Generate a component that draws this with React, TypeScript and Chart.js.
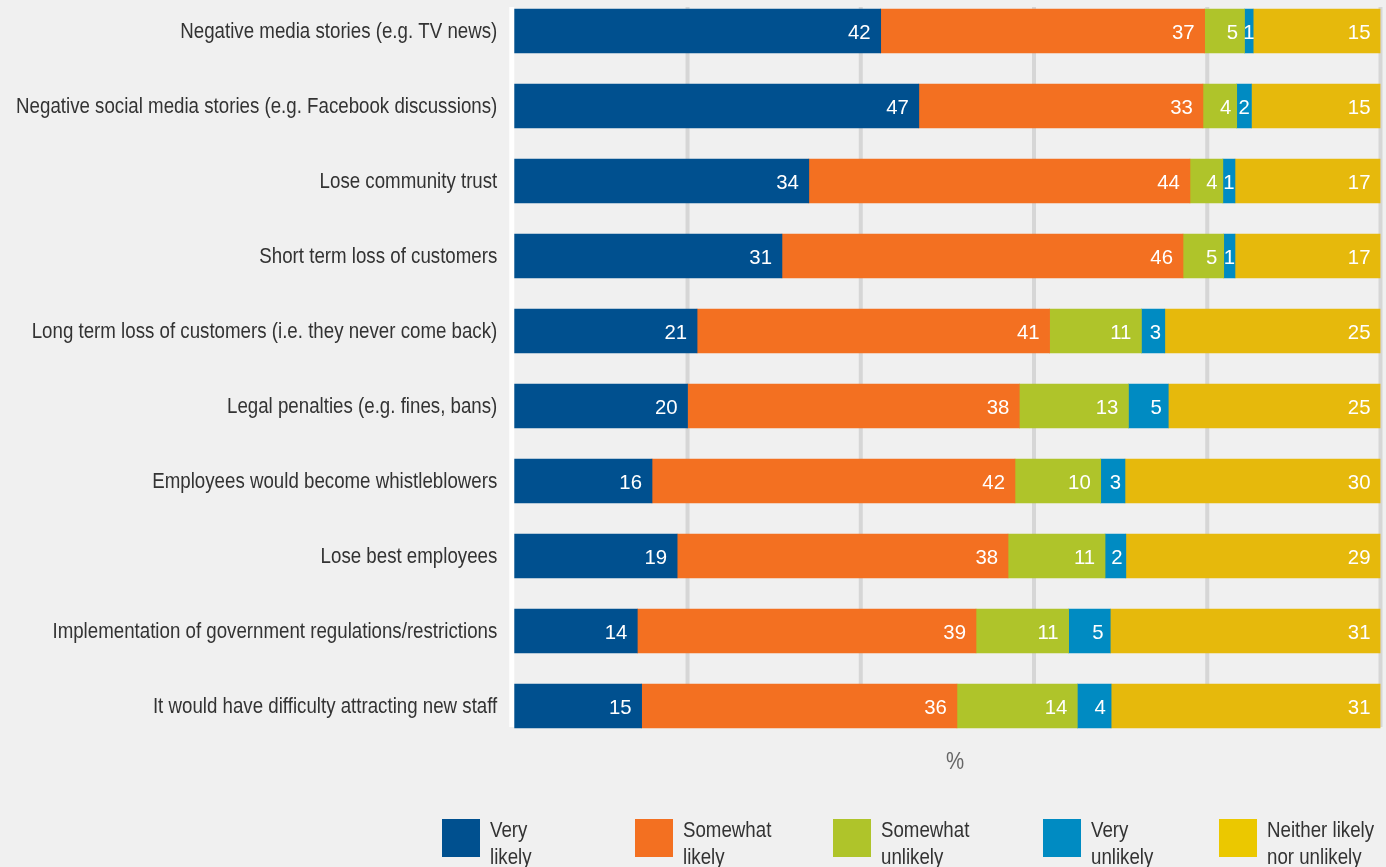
import React, { useEffect, useRef } from 'react';
import { Chart, registerables } from 'chart.js';

Chart.register(...registerables);

const categories = [
  'Negative media stories (e.g. TV news)',
  'Negative social media stories (e.g. Facebook discussions)',
  'Lose community trust',
  'Short term loss of customers',
  'Long term loss of customers (i.e. they never come back)',
  'Legal penalties (e.g. fines, bans)',
  'Employees would become whistleblowers',
  'Lose best employees',
  'Implementation of government regulations/restrictions',
  'It would have difficulty attracting new staff',
];

// Shares (%); the labels show them rounded.
const veryLikely = [42.3, 46.7, 34.0, 30.9, 21.1, 20.0, 15.9, 18.8, 14.2, 14.7];
const somewhatLikely = [37.4, 32.8, 44.0, 46.3, 40.7, 38.3, 41.9, 38.2, 39.1, 36.4];
const somewhatUnlikely = [4.6, 3.9, 3.8, 4.7, 10.6, 12.6, 9.9, 11.2, 10.7, 13.9];
const veryUnlikely = [1.0, 1.7, 1.4, 1.3, 2.7, 4.6, 2.8, 2.4, 4.8, 3.9];
const neitherLikely = [14.7, 14.9, 16.8, 16.8, 24.9, 24.5, 29.5, 29.4, 31.2, 31.1];

const seriesLabels = [
  ['Very', 'likely'],
  ['Somewhat', 'likely'],
  ['Somewhat', 'unlikely'],
  ['Very', 'unlikely'],
  ['Neither likely', 'nor unlikely'],
];
const seriesValues = [veryLikely, somewhatLikely, somewhatUnlikely, veryUnlikely, neitherLikely];
const seriesColors = ['#00508f', '#f37021', '#afc42a', '#008bc2', '#e6b90c'];
const legendColors = ['#00508f', '#f37021', '#afc42a', '#008bc2', '#ebc800'];

const gridTicks = [20, 40, 60, 80, 100];
const axisTitle = '%';

const FONT = '"Liberation Sans", Arial, sans-serif';
const SX = 0.85; // horizontal condensing of text
const OFFSET = 20; // canvas is shifted up by this many px
const CANVAS_W = 1386;
const CANVAS_H = 907;
const legendX = [442, 635, 833, 1043, 1219];

function narrowText(
  ctx: CanvasRenderingContext2D,
  text: string,
  x: number,
  y: number,
  align: 'left' | 'right' | 'center',
  sx: number = SX
) {
  const w = ctx.measureText(text).width * sx;
  let left = x;
  if (align === 'right') left = x - w;
  else if (align === 'center') left = x - w / 2;
  ctx.save();
  ctx.textAlign = 'left';
  ctx.translate(left, y);
  ctx.scale(sx, 1);
  ctx.fillText(text, 0, 0);
  ctx.restore();
}

const gridPlugin = {
  id: 'customGrid',
  beforeDatasetsDraw(chart: any) {
    const { ctx } = chart;
    const xs = chart.scales.x;
    const ys = chart.scales.y;
    const top = ys.getPixelForValue(0) - 24;
    const bottom = ys.getPixelForValue(categories.length - 1) + 21;
    ctx.save();
    ctx.fillStyle = '#d6d6d6';
    gridTicks.forEach((v) => {
      const px = xs.getPixelForValue(v);
      ctx.fillRect(px - 2, top, 4, bottom - top);
    });
    const p0 = xs.getPixelForValue(0);
    ctx.fillStyle = '#ffffff';
    ctx.fillRect(p0 - 5, top, 5, bottom - top);
    // category labels
    ctx.font = `22px ${FONT}`;
    ctx.fillStyle = '#333333';
    ctx.textBaseline = 'middle';
    chart.data.labels.forEach((lab: string, i: number) => {
      narrowText(ctx, lab, chart.chartArea.left - 17, ys.getPixelForTick(i) + 1, 'right');
    });
    ctx.restore();
  },
};

const labelPlugin = {
  id: 'valueLabels',
  afterDatasetsDraw(chart: any) {
    const { ctx, chartArea } = chart;
    const vsx = 0.97;
    ctx.save();
    ctx.font = `21px ${FONT}`;
    ctx.fillStyle = '#ffffff';
    ctx.textBaseline = 'middle';
    chart.data.datasets.forEach((ds: any, i: number) => {
      const meta = chart.getDatasetMeta(i);
      meta.data.forEach((el: any, j: number) => {
        const v = ds.data[j];
        const end = Math.min(el.x, chartArea.right);
        const start = el.base;
        const w = end - start;
        const txt = String(Math.round(v));
        const tw = ctx.measureText(txt).width * vsx;
        const pad = Math.min(10, w * 0.16);
        const xr = Math.max(end - pad, (start + end) / 2 + tw / 2);
        narrowText(ctx, txt, xr, el.y + 2, 'right', vsx);
      });
    });
    ctx.restore();
  },
};

const legendPlugin = {
  id: 'customLegend',
  afterDraw(chart: any) {
    const { ctx } = chart;
    ctx.save();
    // axis title
    ctx.font = `24px ${FONT}`;
    ctx.fillStyle = '#666666';
    ctx.textBaseline = 'middle';
    narrowText(ctx, axisTitle, 955, 762 + OFFSET, 'center');
    // legend
    ctx.textBaseline = 'alphabetic';
    ctx.font = `22px ${FONT}`;
    chart.data.datasets.forEach((ds: any, i: number) => {
      const x = legendX[i];
      ctx.fillStyle = legendColors[i];
      ctx.fillRect(x, 819 + OFFSET, 38, 38);
      ctx.fillStyle = '#333333';
      const lines: string[] = ds.legendLines;
      lines.forEach((line, k) => {
        narrowText(ctx, line, x + 48, 837 + OFFSET + k * 27, 'left');
      });
    });
    ctx.restore();
  },
};

export default function App() {
  const canvasRef = useRef<HTMLCanvasElement | null>(null);

  useEffect(() => {
    if (!canvasRef.current) return;
    const chart = new Chart(canvasRef.current, {
      type: 'bar',
      data: {
        labels: categories,
        datasets: seriesValues.map((vals, i) => ({
          label: seriesLabels[i].join(' '),
          legendLines: seriesLabels[i],
          data: vals,
          backgroundColor: seriesColors[i],
          borderWidth: 0,
          barThickness: 44,
        })) as any,
      },
      options: {
        indexAxis: 'y',
        animation: false,
        responsive: false,
        devicePixelRatio: 1,
        layout: {
          padding: { left: 0, right: 5.5, top: 13.5, bottom: CANVAS_H - 763.5 },
        },
        plugins: {
          legend: { display: false },
          tooltip: { enabled: false },
        },
        scales: {
          x: {
            type: 'linear',
            stacked: true,
            min: 0,
            max: 100,
            display: false,
          },
          y: {
            type: 'category',
            stacked: true,
            offset: true,
            grid: { display: false, drawTicks: false },
            border: { display: false },
            ticks: { display: false },
            afterFit: (scale: any) => {
              scale.width = 514.3;
            },
          },
        },
      },
      plugins: [gridPlugin, labelPlugin, legendPlugin],
    });
    return () => chart.destroy();
  }, []);

  return (
    <div
      style={{
        position: 'absolute',
        left: 0,
        top: 0,
        width: CANVAS_W,
        height: 867,
        overflow: 'hidden',
        background: '#f0f0f0',
      }}
    >
      <canvas
        ref={canvasRef}
        width={CANVAS_W}
        height={CANVAS_H}
        style={{ position: 'absolute', left: 0, top: -OFFSET, width: CANVAS_W, height: CANVAS_H }}
      />
    </div>
  );
}
